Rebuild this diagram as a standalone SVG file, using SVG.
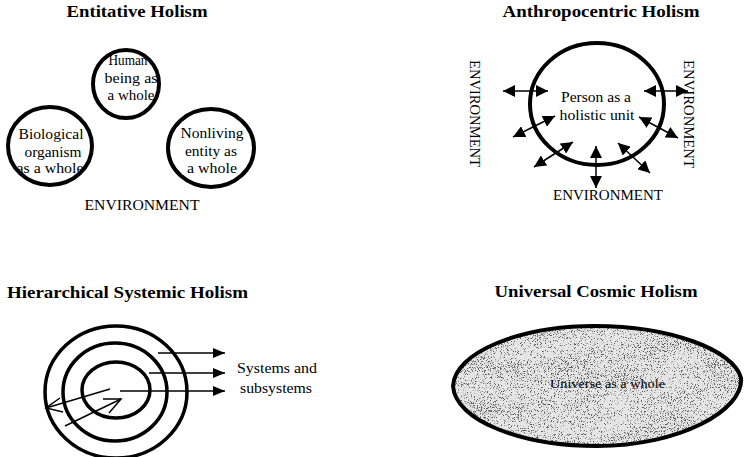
<svg xmlns="http://www.w3.org/2000/svg" width="745" height="457" viewBox="0 0 745 457">
<style>
  .title { font-family: 'Liberation Serif', serif; font-weight: bold; font-size: 16px; fill: #000; }
  .lbl { font-family: 'Liberation Serif', serif; font-size: 15px; fill: #000; }
  .mid { text-anchor: middle; }
  .ring { fill: none; stroke: #000; stroke-width: 4; }
  .ring3 { fill: none; stroke: #000; stroke-width: 3.5; }
  .arr { fill: none; stroke: #000; stroke-width: 1.5; }
  .darr { fill: none; stroke: #000; stroke-width: 1.5; marker-start: url(#head); marker-end: url(#head); }
  .sarr { fill: none; stroke: #000; stroke-width: 1.5; marker-end: url(#head2); }
</style>
<defs>
  <marker id="head" viewBox="0 0 12 12" refX="12" refY="6" markerWidth="12" markerHeight="12" markerUnits="userSpaceOnUse" orient="auto-start-reverse">
    <path d="M0,0 L12,6 L0,12 Z" fill="#000"/>
  </marker>
  <marker id="head2" viewBox="0 0 12 10" refX="12" refY="5" markerWidth="12" markerHeight="10" markerUnits="userSpaceOnUse" orient="auto">
    <path d="M0,0 L12,5 L0,10 Z" fill="#000"/>
  </marker>
  <filter id="stipple" color-interpolation-filters="sRGB">
    <feTurbulence type="fractalNoise" baseFrequency="1.3" numOctaves="1" seed="2" result="hi0"/>
    <feColorMatrix in="hi0" type="matrix" values="1 0 0 0 0  1 0 0 0 0  1 0 0 0 0  0 0 0 0 1" result="hi"/>
    <feTurbulence type="fractalNoise" baseFrequency="0.02 0.05" numOctaves="2" seed="7" result="lo0"/>
    <feColorMatrix in="lo0" type="matrix" values="1 0 0 0 0  1 0 0 0 0  1 0 0 0 0  0 0 0 0 1" result="lo"/>
    <feComposite in="hi" in2="lo" operator="arithmetic" k1="0" k2="1" k3="0.18" k4="-0.09" result="mix"/>
    <feColorMatrix in="mix" type="matrix" values="0 0 0 0 0.35  0 0 0 0 0.35  0 0 0 0 0.35  -8 0 0 0 3.55" result="dots"/>
    <feComposite in="dots" in2="SourceGraphic" operator="in"/>
  </filter>
  <path id="uniShape" d="M453,386 C455,352 520,326 595,326 C670,326 734,350 741,378 C744,410 680,446 597,446 C520,446 455,420 453,386 Z"/>
</defs>

<!-- Titles -->
<text class="title mid" font-family="Liberation Serif" x="137" y="17" textLength="141" lengthAdjust="spacingAndGlyphs">Entitative Holism</text>
<text class="title mid" font-family="Liberation Serif" x="601" y="17" textLength="197" lengthAdjust="spacingAndGlyphs">Anthropocentric Holism</text>
<text class="title" font-family="Liberation Serif" x="7" y="298" textLength="241" lengthAdjust="spacingAndGlyphs">Hierarchical Systemic Holism</text>
<text class="title mid" font-family="Liberation Serif" x="596" y="297" textLength="203" lengthAdjust="spacingAndGlyphs">Universal Cosmic Holism</text>

<!-- Entitative Holism -->
<g id="human">
  <ellipse class="ring" cx="126" cy="84" rx="33" ry="34"/>
  <text class="lbl mid" font-family="Liberation Serif" x="128" y="65" textLength="39" lengthAdjust="spacingAndGlyphs">Human</text>
  <text class="lbl mid" font-family="Liberation Serif" x="131" y="83" textLength="53" lengthAdjust="spacingAndGlyphs">being as</text>
  <text class="lbl mid" font-family="Liberation Serif" x="131" y="100" textLength="47" lengthAdjust="spacingAndGlyphs">a whole</text>
</g>
<g id="biological">
  <ellipse class="ring" cx="50" cy="146" rx="42" ry="39"/>
  <text class="lbl mid" font-family="Liberation Serif" x="51" y="139" textLength="65" lengthAdjust="spacingAndGlyphs">Biological</text>
  <text class="lbl mid" font-family="Liberation Serif" x="53" y="157" textLength="57" lengthAdjust="spacingAndGlyphs">organism</text>
  <text class="lbl mid" font-family="Liberation Serif" x="50" y="173" textLength="67" lengthAdjust="spacingAndGlyphs">as a whole</text>
</g>
<g id="nonliving">
  <ellipse class="ring" cx="211" cy="148" rx="43" ry="39"/>
  <text class="lbl mid" font-family="Liberation Serif" x="212" y="138" textLength="63" lengthAdjust="spacingAndGlyphs">Nonliving</text>
  <text class="lbl mid" font-family="Liberation Serif" x="211" y="156" textLength="52" lengthAdjust="spacingAndGlyphs">entity as</text>
  <text class="lbl mid" font-family="Liberation Serif" x="212" y="173" textLength="50" lengthAdjust="spacingAndGlyphs">a whole</text>
</g>
<text class="lbl mid" font-family="Liberation Serif" x="142" y="210" textLength="115" lengthAdjust="spacingAndGlyphs">ENVIRONMENT</text>

<!-- Anthropocentric Holism -->
<g id="person">
  <ellipse class="ring" cx="597" cy="104" rx="67" ry="61"/>
  <text class="lbl mid" font-family="Liberation Serif" x="596" y="102" textLength="70" lengthAdjust="spacingAndGlyphs">Person as a</text>
  <text class="lbl mid" font-family="Liberation Serif" x="597" y="120" textLength="75" lengthAdjust="spacingAndGlyphs">holistic unit</text>
</g>
<g id="anthro-connectors">
  <line class="darr" x1="503" y1="91" x2="548" y2="91"/>
  <line class="darr" x1="644" y1="91" x2="688" y2="91"/>
  <line class="darr" x1="513" y1="137" x2="555" y2="116"/>
  <line class="darr" x1="534" y1="167" x2="573" y2="142"/>
  <line class="darr" x1="596" y1="146" x2="596" y2="188"/>
  <line class="darr" x1="618" y1="143" x2="650" y2="173"/>
  <line class="darr" x1="639" y1="117" x2="678" y2="138"/>
</g>
<text class="lbl mid" font-family="Liberation Serif" x="608" y="200" textLength="110" lengthAdjust="spacingAndGlyphs">ENVIRONMENT</text>
<text class="lbl" font-family="Liberation Serif" transform="translate(470,60) rotate(90)" x="0" y="0" textLength="107" lengthAdjust="spacingAndGlyphs">ENVIRONMENT</text>
<text class="lbl" font-family="Liberation Serif" transform="translate(684,60) rotate(90)" x="0" y="0" textLength="108" lengthAdjust="spacingAndGlyphs">ENVIRONMENT</text>

<!-- Hierarchical Systemic Holism -->
<g id="systems">
  <ellipse class="ring3" cx="116" cy="392" rx="71" ry="66"/>
  <ellipse class="ring3" cx="115" cy="392" rx="52" ry="49"/>
  <ellipse class="ring3" cx="116" cy="390" rx="34" ry="28"/>
</g>
<g id="hier-connectors">
  <line class="sarr" x1="158" y1="353" x2="225" y2="353"/>
  <line class="sarr" x1="149" y1="373" x2="225" y2="373"/>
  <line class="sarr" x1="120" y1="391" x2="225" y2="391"/>
  <line class="arr" x1="110" y1="389" x2="46" y2="408"/>
  <polyline class="arr" points="60,398 46,408 63,412"/>
  <line class="arr" x1="65" y1="426" x2="121" y2="399"/>
  <polyline class="arr" points="103,399 121,399 109,413"/>
</g>
<text class="lbl" font-family="Liberation Serif" x="237" y="373" textLength="80" lengthAdjust="spacingAndGlyphs">Systems and</text>
<text class="lbl" font-family="Liberation Serif" x="240" y="393" textLength="72" lengthAdjust="spacingAndGlyphs">subsystems</text>

<!-- Universal Cosmic Holism -->
<g id="universe">
  <use href="#uniShape" fill="#e6e6e6"/>
  <use href="#uniShape" fill="#000" filter="url(#stipple)"/>
  <use href="#uniShape" fill="none" stroke="#000" stroke-width="4"/>
  <text font-family="Liberation Serif" x="550" y="388" font-size="13" textLength="115" lengthAdjust="spacingAndGlyphs">Universe as a whole</text>
</g>
</svg>
